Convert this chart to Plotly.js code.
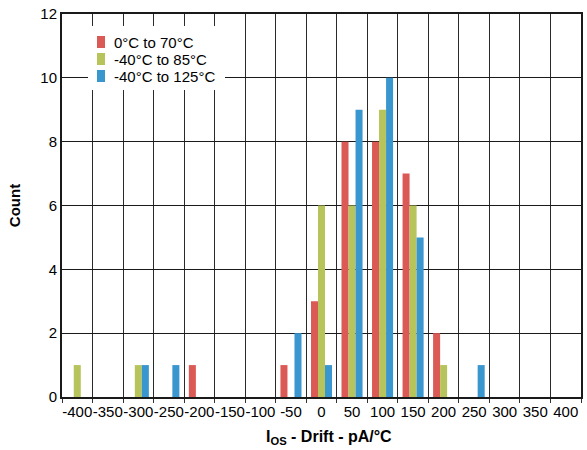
<!DOCTYPE html>
<html>
<head>
<meta charset="utf-8">
<script src="https://cdn.plot.ly/plotly-3.0.1.min.js"></script>
<style>html,body{margin:0;padding:0;background:#fff;}#chart{width:587px;height:450px;}</style>
</head>
<body>
<div id="chart"></div>
<script>
const categories = ["-400","-350","-300","-250","-200","-150","-100","-50","0","50","100","150","200","250","300","350","400"];
const series0to70 = [0,0,0,0,1,0,0,1,3,8,8,7,2,0,0,0,0];
const seriesM40to85 = [1,0,1,0,0,0,0,0,6,6,9,6,1,0,0,0,0];
const seriesM40to125 = [0,0,1,1,0,0,0,2,1,9,10,5,0,1,0,0,0];
const seriesNames = ["0°C to 70°C","-40°C to 85°C","-40°C to 125°C"];
const colors = ["#DB5A55","#B7C45B","#3A96CF"];
const xTitle = "<b>I<sub>OS</sub> - Drift - pA/°C</b>";
const yTitle = "<b>Count</b>";

const font = "Liberation Sans, Arial, sans-serif";
const data = [series0to70, seriesM40to85, seriesM40to125].map((v,i)=>({
  type:"bar", x:categories, y:v, name:seriesNames[i],
  marker:{color:colors[i], line:{width:0}}
}));

// legend drawn as annotations + small squares (paper coords)
const W = 519, H = 383;
const px = x => (x-62)/W, py = y => (397-y)/H;
const legendRows = [42, 59, 76];
const shapes = [{type:"rect", xref:"paper", yref:"paper", x0:px(88), x1:px(225), y0:py(90), y1:py(26),
                 fillcolor:"#fff", line:{width:0}, layer:"above"}];
const annotations = [];
seriesNames.forEach((n,i)=>{
  const yc = legendRows[i];
  shapes.push({type:"rect", xref:"paper", yref:"paper", x0:px(97), x1:px(105), y0:py(yc+6), y1:py(yc-6),
               fillcolor:colors[i], line:{width:0}, layer:"above"});
  annotations.push({xref:"paper", yref:"paper", x:px(112), y:py(yc), xanchor:"left", yanchor:"middle",
                    text:n, showarrow:false, font:{family:font, size:15, color:"#000"}});
});
annotations.push({xref:"paper", yref:"paper", x:px(328.5), y:py(437), xanchor:"center", yanchor:"middle",
                  text:xTitle, showarrow:false, font:{family:font, size:16, color:"#000"}});

const layout = {
  width:587, height:450,
  margin:{l:62, r:6, t:14, b:53},
  paper_bgcolor:"#fff", plot_bgcolor:"#fff",
  barmode:"group", bargap:0.31, bargroupgap:0,
  font:{family:font, color:"#000", size:14},
  showlegend:false,
  shapes:shapes, annotations:annotations,
  xaxis:{type:"category", tickson:"boundaries", showgrid:true, gridcolor:"#2a2a2a", gridwidth:1,
         ticks:"outside", ticklen:4, tickcolor:"#333", tickangle:0,
         showline:true, linecolor:"#1a1a1a", linewidth:2, mirror:true,
         tickfont:{family:font, size:15, color:"#000"},
         fixedrange:true},
  yaxis:{range:[0,12], dtick:2, showgrid:true, gridcolor:"#1a1a1a", gridwidth:1,
         showline:true, linecolor:"#1a1a1a", linewidth:2, mirror:true, zeroline:false,
         ticks:"", tickfont:{family:font, size:15, color:"#000"},
         title:{text:yTitle, font:{family:font, size:15, color:"#000"}, standoff:16},
         fixedrange:true}
};
Plotly.newPlot("chart", data, layout, {displayModeBar:false, staticPlot:true});
</script>
</body>
</html>
